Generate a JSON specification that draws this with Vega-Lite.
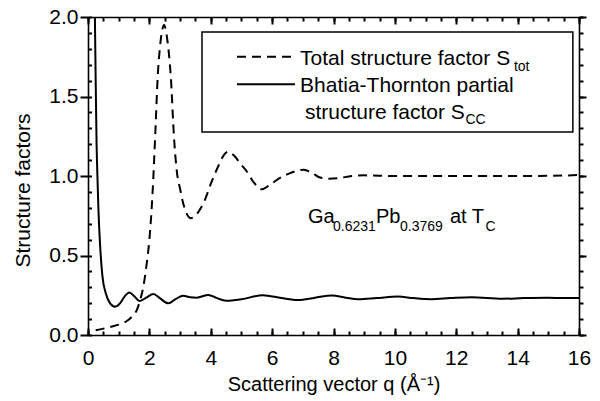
{
  "$schema": "https://vega.github.io/schema/vega-lite/v6.json",
  "width": 491,
  "height": 318,
  "autosize": {"type": "none"},
  "padding": {"left": 88, "top": 17, "right": 21, "bottom": 66},
  "background": "white",
  "config": {
    "view": {"stroke": null},
    "font": "Liberation Sans",
    "axis": {
      "domainColor": "black", "domainWidth": 1.6, "tickColor": "black", "tickWidth": 2, "ticks": true, "tickOpacity": 1,
      "labelColor": "black", "titleColor": "black", "labelFont": "Liberation Sans", "titleFont": "Liberation Sans",
      "labelFontSize": 21, "titleFontSize": 21, "titleFontWeight": "normal", "grid": false,
      "labelOverlap": false, "labelFlush": false, "labelBound": false
    }
  },
  "datasets": {
    "stot": [
      {"q": 0.25, "s": 0.03}, {"q": 0.5, "s": 0.04}, {"q": 0.9, "s": 0.06}, {"q": 1.15, "s": 0.075},
      {"q": 1.31, "s": 0.094}, {"q": 1.45, "s": 0.12}, {"q": 1.59, "s": 0.157}, {"q": 1.7, "s": 0.22},
      {"q": 1.8, "s": 0.3}, {"q": 1.9, "s": 0.43}, {"q": 2.0, "s": 0.6}, {"q": 2.1, "s": 0.88},
      {"q": 2.2, "s": 1.3}, {"q": 2.27, "s": 1.62}, {"q": 2.35, "s": 1.82}, {"q": 2.42, "s": 1.92},
      {"q": 2.48, "s": 1.95}, {"q": 2.55, "s": 1.9}, {"q": 2.62, "s": 1.8}, {"q": 2.7, "s": 1.62},
      {"q": 2.8, "s": 1.25}, {"q": 2.9, "s": 1.02}, {"q": 3.0, "s": 0.92}, {"q": 3.1, "s": 0.83},
      {"q": 3.2, "s": 0.77}, {"q": 3.35, "s": 0.735}, {"q": 3.5, "s": 0.75}, {"q": 3.65, "s": 0.79},
      {"q": 3.81, "s": 0.85}, {"q": 4.0, "s": 0.95}, {"q": 4.24, "s": 1.06}, {"q": 4.42, "s": 1.13},
      {"q": 4.57, "s": 1.153}, {"q": 4.75, "s": 1.13}, {"q": 5.0, "s": 1.07}, {"q": 5.17, "s": 1.03},
      {"q": 5.4, "s": 0.96}, {"q": 5.66, "s": 0.916}, {"q": 5.9, "s": 0.94}, {"q": 6.15, "s": 0.975},
      {"q": 6.55, "s": 1.015}, {"q": 7.03, "s": 1.04}, {"q": 7.3, "s": 1.02}, {"q": 7.56, "s": 0.99},
      {"q": 7.85, "s": 0.983}, {"q": 8.15, "s": 0.986}, {"q": 8.59, "s": 1.0}, {"q": 9.0, "s": 1.004},
      {"q": 10.0, "s": 1.0}, {"q": 11.0, "s": 1.0}, {"q": 12.0, "s": 1.0}, {"q": 13.0, "s": 1.0},
      {"q": 14.0, "s": 1.0}, {"q": 15.0, "s": 1.001}, {"q": 16.0, "s": 1.006}
    ],
    "scc": [
      {"q": 0.225, "s": 2.0}, {"q": 0.25, "s": 1.6}, {"q": 0.28, "s": 1.2}, {"q": 0.31, "s": 0.98},
      {"q": 0.34, "s": 0.79}, {"q": 0.39, "s": 0.58}, {"q": 0.47, "s": 0.37}, {"q": 0.58, "s": 0.262},
      {"q": 0.7, "s": 0.205}, {"q": 0.88, "s": 0.178}, {"q": 1.05, "s": 0.2}, {"q": 1.2, "s": 0.245},
      {"q": 1.35, "s": 0.268}, {"q": 1.5, "s": 0.245}, {"q": 1.69, "s": 0.214}, {"q": 1.9, "s": 0.235},
      {"q": 2.13, "s": 0.258}, {"q": 2.35, "s": 0.23}, {"q": 2.62, "s": 0.199}, {"q": 2.85, "s": 0.225},
      {"q": 3.1, "s": 0.247}, {"q": 3.33, "s": 0.237}, {"q": 3.54, "s": 0.235}, {"q": 3.92, "s": 0.252},
      {"q": 4.2, "s": 0.232}, {"q": 4.5, "s": 0.216}, {"q": 5.0, "s": 0.225}, {"q": 5.7, "s": 0.25},
      {"q": 6.3, "s": 0.232}, {"q": 6.85, "s": 0.22}, {"q": 7.4, "s": 0.235}, {"q": 7.95, "s": 0.248},
      {"q": 8.4, "s": 0.235}, {"q": 8.8, "s": 0.225}, {"q": 9.4, "s": 0.232}, {"q": 10.1, "s": 0.242},
      {"q": 10.6, "s": 0.232}, {"q": 11.2, "s": 0.225}, {"q": 11.8, "s": 0.232}, {"q": 12.5, "s": 0.238},
      {"q": 13.5, "s": 0.228}, {"q": 14.2, "s": 0.232}, {"q": 15.0, "s": 0.234}, {"q": 15.5, "s": 0.232},
      {"q": 16.0, "s": 0.232}
    ]
  },
  "resolve": {"axis": {"x": "independent", "y": "independent"}},
  "layer": [
    {
      "data": {"name": "stot"},
      "mark": {"type": "line", "color": "black", "strokeWidth": 2, "strokeDash": [9, 6], "interpolate": "monotone"},
      "encoding": {
        "x": {"field": "q", "type": "quantitative", "scale": {"domain": [0, 16], "nice": false, "zero": false},
          "axis": {"orient": "bottom", "title": "Scattering vector q (Å⁻¹)", "titlePadding": 6, "titleFontSize": 20,
            "values": [0,2,4,6,8,10,12,14,16], "format": "d", "ticks": true, "tickColor": "black", "tickWidth": 2,
            "tickSize": 0, "labelPadding": 12}},
        "y": {"field": "s", "type": "quantitative", "scale": {"domain": [0, 2], "nice": false, "zero": false},
          "axis": {"orient": "left", "title": "Structure factors", "titlePadding": 15, "titleY": 173,
            "values": [0,0.5,1.0,1.5,2.0], "format": ".1f", "ticks": true, "tickColor": "black", "tickWidth": 2,
            "tickSize": 8, "labelPadding": 2}}
      }
    },
    {
      "data": {"name": "scc"},
      "mark": {"type": "line", "color": "black", "strokeWidth": 2, "interpolate": "monotone"},
      "encoding": {
        "x": {"field": "q", "type": "quantitative", "scale": {"domain": [0, 16], "nice": false, "zero": false},
          "axis": {"orient": "top", "title": null, "labels": false, "ticks": false,
            "values": [0,2,4,6,8,10,12,14,16]}},
        "y": {"field": "s", "type": "quantitative", "scale": {"domain": [0, 2], "nice": false, "zero": false},
          "axis": {"orient": "right", "title": null, "labels": false, "ticks": true, "tickColor": "black", "tickWidth": 2,
            "values": [0,0.5,1.0,1.5,2.0], "tickSize": 7}}
      }
    },
    {
      "data": {"values": [{"item": "legend frame"}]},
      "mark": {"type": "rect", "fill": "white", "stroke": "black", "strokeWidth": 1.5},
      "encoding": {
        "x": {"datum": 3.715, "type": "quantitative", "scale": {"domain": [0, 16]},
          "axis": {"orient": "bottom", "title": null, "labels": false, "domain": false, "ticks": true, "tickColor": "black", "tickWidth": 2,
            "values": [0,2,4,6,8,10,12,14,16], "offset": -7, "tickSize": 7}},
        "x2": {"datum": 15.8},
        "y": {"datum": 1.906, "type": "quantitative", "scale": {"domain": [0, 2]},
          "axis": {"orient": "left", "title": null, "labels": false, "domain": false, "ticks": true, "tickColor": "black", "tickWidth": 2,
            "values": [0,0.1,0.2,0.3,0.4,0.5,0.6,0.7,0.8,0.9,1.0,1.1,1.2,1.3,1.4,1.5,1.6,1.7,1.8,1.9,2.0],
            "offset": -3.5, "tickSize": 3.5}},
        "y2": {"datum": 1.277}
      }
    },
    {
      "data": {"values": [{"item": "Total structure factor sample"}]},
      "mark": {"type": "rule", "color": "black", "strokeWidth": 2, "strokeDash": [9, 6]},
      "encoding": {
        "x": {"datum": 4.855, "type": "quantitative", "scale": {"domain": [0, 16]},
          "axis": {"orient": "bottom", "title": null, "labels": false, "domain": false, "ticks": true, "tickColor": "black", "tickWidth": 2,
            "values": [0,0.5,1,1.5,2,2.5,3,3.5,4,4.5,5,5.5,6,6.5,7,7.5,8,8.5,9,9.5,10,10.5,11,11.5,12,12.5,13,13.5,14,14.5,15,15.5,16],
            "offset": -4, "tickSize": 4}},
        "x2": {"datum": 6.745},
        "y": {"datum": 1.75, "type": "quantitative", "scale": {"domain": [0, 2]},
          "axis": {"orient": "right", "title": null, "labels": false, "domain": false, "ticks": true, "tickColor": "black", "tickWidth": 2,
            "values": [0,0.1,0.2,0.3,0.4,0.5,0.6,0.7,0.8,0.9,1.0,1.1,1.2,1.3,1.4,1.5,1.6,1.7,1.8,1.9,2.0],
            "tickSize": 4}}
      }
    },
    {
      "data": {"values": [{"item": "Bhatia-Thornton sample"}]},
      "mark": {"type": "rule", "color": "black", "strokeWidth": 2},
      "encoding": {
        "x": {"datum": 4.855, "type": "quantitative", "scale": {"domain": [0, 16]},
          "axis": {"orient": "top", "title": null, "labels": false, "domain": false, "ticks": true, "tickColor": "black", "tickWidth": 2,
            "values": [0,2,4,6,8,10,12,14,16], "offset": -7, "tickSize": 7}},
        "x2": {"datum": 6.745},
        "y": {"datum": 1.577, "type": "quantitative", "scale": {"domain": [0, 2]}, "axis": null}
      }
    },
    {
      "data": {"values": [{"t": "Total structure factor S"}]},
      "mark": {"type": "text", "align": "left", "baseline": "alphabetic", "fontSize": 21, "color": "black", "font": "Liberation Sans"},
      "encoding": {
        "x": {"datum": 6.91, "type": "quantitative", "scale": {"domain": [0, 16]},
          "axis": {"orient": "top", "title": null, "labels": false, "domain": false, "ticks": true, "tickColor": "black", "tickWidth": 2,
            "values": [0,0.5,1,1.5,2,2.5,3,3.5,4,4.5,5,5.5,6,6.5,7,7.5,8,8.5,9,9.5,10,10.5,11,11.5,12,12.5,13,13.5,14,14.5,15,15.5,16],
            "offset": -4, "tickSize": 4}},
        "y": {"datum": 1.701, "type": "quantitative", "scale": {"domain": [0, 2]}, "axis": null},
        "text": {"field": "t"}
      }
    },
    {
      "data": {"values": [{"t": "tot"}]},
      "mark": {"type": "text", "align": "left", "baseline": "alphabetic", "fontSize": 14, "color": "black", "font": "Liberation Sans"},
      "encoding": {
        "x": {"datum": 13.88, "type": "quantitative", "scale": {"domain": [0, 16]}, "axis": null},
        "y": {"datum": 1.66, "type": "quantitative", "scale": {"domain": [0, 2]}, "axis": null},
        "text": {"field": "t"}
      }
    },
    {
      "data": {"values": [{"t": "Bhatia-Thornton partial"}]},
      "mark": {"type": "text", "align": "left", "baseline": "alphabetic", "fontSize": 21, "color": "black", "font": "Liberation Sans"},
      "encoding": {
        "x": {"datum": 6.91, "type": "quantitative", "scale": {"domain": [0, 16]}, "axis": null},
        "y": {"datum": 1.531, "type": "quantitative", "scale": {"domain": [0, 2]}, "axis": null},
        "text": {"field": "t"}
      }
    },
    {
      "data": {"values": [{"t": "structure factor S"}]},
      "mark": {"type": "text", "align": "left", "baseline": "alphabetic", "fontSize": 21, "color": "black", "font": "Liberation Sans"},
      "encoding": {
        "x": {"datum": 7.07, "type": "quantitative", "scale": {"domain": [0, 16]}, "axis": null},
        "y": {"datum": 1.358, "type": "quantitative", "scale": {"domain": [0, 2]}, "axis": null},
        "text": {"field": "t"}
      }
    },
    {
      "data": {"values": [{"t": "CC"}]},
      "mark": {"type": "text", "align": "left", "baseline": "alphabetic", "fontSize": 14, "color": "black", "font": "Liberation Sans"},
      "encoding": {
        "x": {"datum": 12.3, "type": "quantitative", "scale": {"domain": [0, 16]}, "axis": null},
        "y": {"datum": 1.327, "type": "quantitative", "scale": {"domain": [0, 2]}, "axis": null},
        "text": {"field": "t"}
      }
    },
    {
      "data": {"values": [{"t": "Ga"}]},
      "mark": {"type": "text", "align": "left", "baseline": "alphabetic", "fontSize": 20, "color": "black", "font": "Liberation Sans"},
      "encoding": {
        "x": {"datum": 7.169, "type": "quantitative", "scale": {"domain": [0, 16]}, "axis": null},
        "y": {"datum": 0.704, "type": "quantitative", "scale": {"domain": [0, 2]}, "axis": null},
        "text": {"field": "t"}
      }
    },
    {
      "data": {"values": [{"t": "0.6231"}]},
      "mark": {"type": "text", "align": "left", "baseline": "alphabetic", "fontSize": 14, "color": "black", "font": "Liberation Sans"},
      "encoding": {
        "x": {"datum": 7.984, "type": "quantitative", "scale": {"domain": [0, 16]}, "axis": null},
        "y": {"datum": 0.653, "type": "quantitative", "scale": {"domain": [0, 2]}, "axis": null},
        "text": {"field": "t"}
      }
    },
    {
      "data": {"values": [{"t": "Pb"}]},
      "mark": {"type": "text", "align": "left", "baseline": "alphabetic", "fontSize": 20, "color": "black", "font": "Liberation Sans"},
      "encoding": {
        "x": {"datum": 9.385, "type": "quantitative", "scale": {"domain": [0, 16]}, "axis": null},
        "y": {"datum": 0.704, "type": "quantitative", "scale": {"domain": [0, 2]}, "axis": null},
        "text": {"field": "t"}
      }
    },
    {
      "data": {"values": [{"t": "0.3769"}]},
      "mark": {"type": "text", "align": "left", "baseline": "alphabetic", "fontSize": 14, "color": "black", "font": "Liberation Sans"},
      "encoding": {
        "x": {"datum": 10.167, "type": "quantitative", "scale": {"domain": [0, 16]}, "axis": null},
        "y": {"datum": 0.653, "type": "quantitative", "scale": {"domain": [0, 2]}, "axis": null},
        "text": {"field": "t"}
      }
    },
    {
      "data": {"values": [{"t": "at T"}]},
      "mark": {"type": "text", "align": "left", "baseline": "alphabetic", "fontSize": 20, "color": "black", "font": "Liberation Sans"},
      "encoding": {
        "x": {"datum": 11.796, "type": "quantitative", "scale": {"domain": [0, 16]}, "axis": null},
        "y": {"datum": 0.704, "type": "quantitative", "scale": {"domain": [0, 2]}, "axis": null},
        "text": {"field": "t"}
      }
    },
    {
      "data": {"values": [{"t": "C"}]},
      "mark": {"type": "text", "align": "left", "baseline": "alphabetic", "fontSize": 14, "color": "black", "font": "Liberation Sans"},
      "encoding": {
        "x": {"datum": 12.95, "type": "quantitative", "scale": {"domain": [0, 16]}, "axis": null},
        "y": {"datum": 0.653, "type": "quantitative", "scale": {"domain": [0, 2]}, "axis": null},
        "text": {"field": "t"}
      }
    }
  ]
}
